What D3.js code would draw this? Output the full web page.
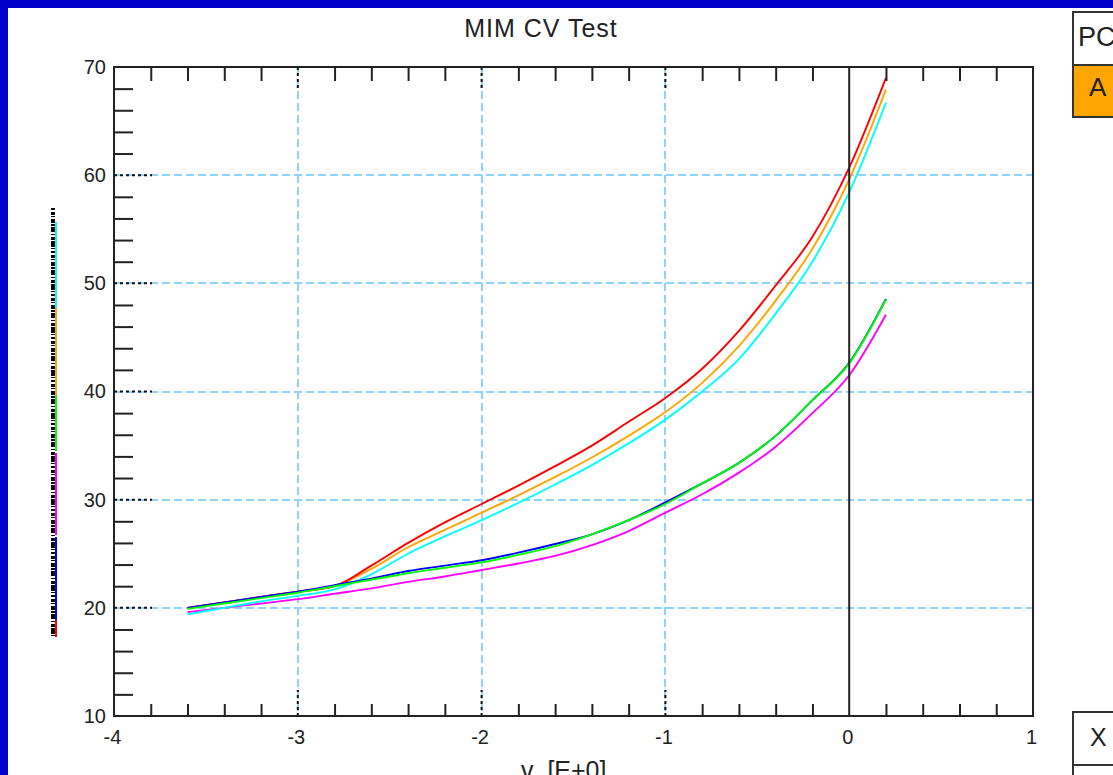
<!DOCTYPE html>
<html>
<head>
<meta charset="utf-8">
<script src="https://cdn.jsdelivr.net/npm/d3@7/dist/d3.min.js"></script>
<style>
  html, body { margin: 0; padding: 0; background: #0000cc; }
  svg { display: block; }
  text { font-family: "Liberation Sans", Arial, sans-serif; fill: #222; }
</style>
</head>
<body>
<svg id="chart" width="1113" height="775"></svg>
<script>
// Bias voltage sweep (V)
const voltage = [-3.6, -3.4, -3.2, -3.0, -2.8, -2.6, -2.4, -2.2, -2.0, -1.8,
                 -1.6, -1.4, -1.2, -1.0, -0.8, -0.6, -0.4, -0.2, 0.0, 0.2];

// Measured capacitance per device
const capRed     = [20.0, 20.5, 21.0, 21.5, 22.0, 23.9, 26.0, 27.9, 29.6, 31.3,
                    33.1, 35.0, 37.2, 39.4, 42.1, 45.6, 49.8, 54.3, 60.7, 69.0];
const capOrange  = [20.0, 20.5, 21.0, 21.5, 22.0, 23.6, 25.6, 27.2, 28.8, 30.4,
                    32.1, 33.9, 35.9, 38.1, 40.8, 44.2, 48.4, 53.2, 59.6, 67.9];
const capCyan    = [19.4, 20.0, 20.6, 21.1, 21.7, 23.1, 25.0, 26.6, 28.1, 29.7,
                    31.4, 33.2, 35.2, 37.4, 40.0, 43.0, 47.2, 52.0, 58.4, 66.7];
const capGreen   = [19.9, 20.4, 20.9, 21.4, 22.0, 22.6, 23.2, 23.7, 24.2, 24.9,
                    25.7, 26.8, 28.1, 29.6, 31.5, 33.4, 35.9, 39.2, 42.6, 48.5];
const capBlue    = [20.0, 20.5, 21.0, 21.5, 22.1, 22.7, 23.4, 23.9, 24.4, 25.1,
                    25.9, 26.8, 28.1, 29.75, 31.5, 33.4, 35.9, 39.2, 42.65, 48.55];
const capMagenta = [19.6, 20.0, 20.4, 20.8, 21.3, 21.8, 22.4, 22.9, 23.5, 24.1,
                    24.8, 25.8, 27.1, 28.8, 30.5, 32.5, 34.9, 38.0, 41.5, 47.1];

// Axis ticks and labels
const xMajorTicks = [-4, -3, -2, -1, 0, 1];
const xGridTicks  = [-3, -2, -1];
const yMajorTicks = [10, 20, 30, 40, 50, 60, 70];
const yGridTicks  = [20, 30, 40, 50, 60];

const titleText = "MIM CV Test";
const xTitleText = "v  [E+0]";

const series = [
  { name: "magenta", values: capMagenta, color: "#ff00ff" },
  { name: "cyan",    values: capCyan,    color: "#00ffff" },
  { name: "orange",  values: capOrange,  color: "#ffa500" },
  { name: "red",     values: capRed,     color: "#ff0000" },
  { name: "blue",    values: capBlue,    color: "#0000ff" },
  { name: "green",   values: capGreen,   color: "#00ff00" }
];

// Stacked colour key shown to the left of the value axis
const keyStrip = [
  { color: "#00ffff", from: 222, to: 308 },
  { color: "#ffa500", from: 308, to: 395 },
  { color: "#00ff00", from: 395, to: 451 },
  { color: "#ff00ff", from: 453, to: 535 },
  { color: "#0000ff", from: 537, to: 620 },
  { color: "#ff0000", from: 620, to: 637 }
];

const svg = d3.select("#chart");

// White panel inside the blue frame
svg.append("rect").attr("x", 8).attr("y", 8).attr("width", 1113 - 8).attr("height", 775 - 8)
  .attr("fill", "#ffffff");

const plot = { left: 114, right: 1033, top: 67, bottom: 716 };
const x = d3.scaleLinear().domain([-4, 1]).range([plot.left, plot.right]);
const y = d3.scaleLinear().domain([10, 70]).range([plot.bottom, plot.top]);
const fmt = d => String(d);

// Grid
const grid = svg.append("g").attr("stroke", "#8ed3fb").attr("stroke-width", 2)
  .attr("stroke-dasharray", "8,4").attr("shape-rendering", "crispEdges");
grid.selectAll("line.gx").data(xGridTicks).join("line")
  .attr("x1", d => x(d)).attr("x2", d => x(d))
  .attr("y1", plot.top).attr("y2", plot.bottom);
grid.selectAll("line.gy").data(yGridTicks).join("line")
  .attr("y1", d => y(d)).attr("y2", d => y(d))
  .attr("x1", plot.left).attr("x2", plot.right);

// Curves
const line = d3.line()
  .x((d, i) => x(voltage[i]))
  .y(d => y(d))
  .curve(d3.curveMonotoneX);

svg.append("g").selectAll("path").data(series).join("path")
  .attr("d", s => line(s.values))
  .attr("fill", "none")
  .attr("stroke", s => s.color)
  .attr("stroke-width", 1.9);

// Zero-bias reference line
svg.append("line")
  .attr("x1", x(0)).attr("x2", x(0)).attr("y1", plot.top).attr("y2", plot.bottom)
  .attr("stroke", "#222").attr("stroke-width", 2);

// Minor ticks (inward)
const xMinor = d3.range(-4, 1.0001, 0.2).map(v => +v.toFixed(1))
  .filter(v => Math.abs(v - Math.round(v)) > 1e-6);
const yMinor = d3.range(10, 70.0001, 2).filter(v => v % 10 !== 0);

svg.append("g").attr("transform", `translate(0,${plot.bottom})`)
  .call(d3.axisBottom(x).tickValues(xMinor).tickSize(-12).tickFormat(""))
  .call(g => g.select(".domain").remove())
  .selectAll("line").attr("stroke", "#222").attr("stroke-width", 2);

svg.append("g").attr("transform", `translate(0,${plot.top})`)
  .call(d3.axisTop(x).tickValues(xMinor).tickSize(-14).tickFormat(""))
  .call(g => g.select(".domain").remove())
  .selectAll("line").attr("stroke", "#222").attr("stroke-width", 2);

svg.append("g").attr("transform", `translate(${plot.left},0)`)
  .call(d3.axisLeft(y).tickValues(yMinor).tickSize(-19).tickFormat(""))
  .call(g => g.select(".domain").remove())
  .selectAll("line").attr("stroke", "#222").attr("stroke-width", 2);

// Major ticks drawn as dotted segments over the grid
const majorTicks = svg.append("g").attr("stroke", "#111").attr("stroke-width", 2)
  .attr("stroke-dasharray", "3,3");
majorTicks.selectAll("line.mx").data(xGridTicks).join("line")
  .attr("x1", d => x(d)).attr("x2", d => x(d))
  .attr("y1", plot.bottom).attr("y2", plot.bottom - 26);
majorTicks.selectAll("line.mt").data(xGridTicks).join("line")
  .attr("x1", d => x(d)).attr("x2", d => x(d))
  .attr("y1", plot.top).attr("y2", plot.top + 24);
majorTicks.selectAll("line.my").data(yGridTicks).join("line")
  .attr("y1", d => y(d)).attr("y2", d => y(d))
  .attr("x1", plot.left).attr("x2", plot.left + 38);

// Frame
svg.append("rect")
  .attr("x", plot.left).attr("y", plot.top)
  .attr("width", plot.right - plot.left).attr("height", plot.bottom - plot.top)
  .attr("fill", "none").attr("stroke", "#222").attr("stroke-width", 2);

// Tick labels
svg.append("g").attr("transform", `translate(0,${plot.bottom})`)
  .call(d3.axisBottom(x).tickValues(xMajorTicks).tickSize(0).tickPadding(14).tickFormat(fmt))
  .call(g => g.select(".domain").remove())
  .selectAll("text").attr("font-size", 20).attr("font-family", "Liberation Sans, Arial, sans-serif")
  .attr("fill", "#222").attr("dx", -2);

svg.append("g").attr("transform", `translate(${plot.left},0)`)
  .call(d3.axisLeft(y).tickValues(yMajorTicks).tickSize(0).tickPadding(8).tickFormat(fmt))
  .call(g => g.select(".domain").remove())
  .selectAll("text").attr("font-size", 20).attr("font-family", "Liberation Sans, Arial, sans-serif")
  .attr("fill", "#222");

// Titles
svg.append("text").attr("x", 541).attr("y", 37).attr("text-anchor", "middle")
  .attr("font-size", 25).attr("letter-spacing", 1).text(titleText);

svg.append("text").attr("x", 521).attr("y", 779)
  .attr("font-size", 25).style("white-space", "pre").text(xTitleText);

// Colour key strip
const key = svg.append("g");
key.selectAll("line").data(keyStrip).join("line")
  .attr("x1", 56).attr("x2", 56)
  .attr("y1", d => d.from).attr("y2", d => d.to)
  .attr("stroke", d => d.color).attr("stroke-width", 2);
key.append("line").attr("x1", 53).attr("x2", 53).attr("y1", 208).attr("y2", 637)
  .attr("stroke", "#000").attr("stroke-width", 4)
  .attr("stroke-dasharray", "2,2,3,1,1,2,4,1,2,1,5,2,1,2,3,1,6,1,1,2");

// Side panels
const side = svg.append("g");
side.append("rect").attr("x", 1073).attr("y", 12).attr("width", 60).attr("height", 53)
  .attr("fill", "#ffffff").attr("stroke", "#333").attr("stroke-width", 2);
side.append("rect").attr("x", 1073).attr("y", 65).attr("width", 60).attr("height", 52)
  .attr("fill", "#ffa500").attr("stroke", "#333").attr("stroke-width", 2);
side.append("text").attr("x", 1078).attr("y", 46).attr("font-size", 27).text("PC");
side.append("text").attr("x", 1089).attr("y", 96).attr("font-size", 26).text("A");

side.append("rect").attr("x", 1073).attr("y", 712).attr("width", 60).attr("height", 53)
  .attr("fill", "#ffffff").attr("stroke", "#333").attr("stroke-width", 2);
side.append("line").attr("x1", 1073).attr("x2", 1073).attr("y1", 765).attr("y2", 775)
  .attr("stroke", "#333").attr("stroke-width", 2);
side.append("text").attr("x", 1090).attr("y", 746).attr("font-size", 25).text("X");
</script>
</body>
</html>
